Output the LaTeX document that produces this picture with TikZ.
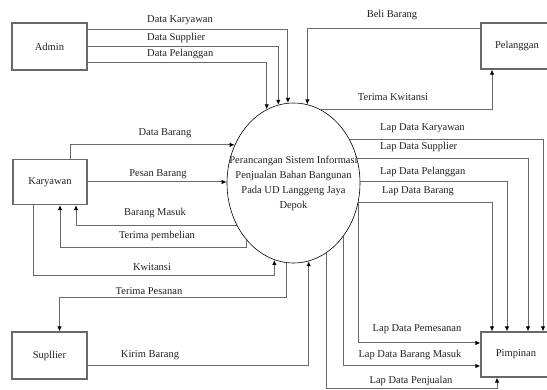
\documentclass[tikz,border=0pt]{standalone}
\usepackage{fontspec}
\setmainfont{Liberation Serif}
\usetikzlibrary{arrows.meta,positioning,shapes.geometric}
\definecolor{lngray}{RGB}{105,105,105}
\definecolor{txgray}{RGB}{35,35,35}
\tikzset{
  ent/.style={draw=lngray, line width=1.1pt, minimum width=75pt, minimum height=47pt,
              inner sep=0pt, font=\fontsize{10.5}{12}\selectfont, text=txgray},
  prc/.style={ellipse, draw=black, line width=0.6pt, minimum width=133pt,
              minimum height=160pt, inner sep=0pt},
  prctxt/.style={align=center, inner sep=0pt, font=\fontsize{10.5}{15}\selectfont, text=txgray},
  flw/.style={-{Latex[length=5pt,width=4.5pt,color=black]}, lngray, line width=1pt},
  lbl/.style={font=\fontsize{10.5}{12}\selectfont, text=txgray, inner sep=0pt},
}

\begin{document}
\begin{tikzpicture}[x=1pt, y=-1pt]
    \useasboundingbox[fill=white] (0,0) rectangle (547,390);
    \node[ent] (admin) at (49.5,46.5) {Admin};
    \node[ent, minimum width=74pt, minimum height=45pt] (karyawan) at (50,182) {Karyawan};
    \node[ent] (supplier) at (49.5,355.5) {Supllier};
    \node[ent, minimum width=90pt, minimum height=46pt] (pelanggan) at (526,46) {};
    \node[lbl] (tpelanggan) at (517,46) {Pelanggan};
    \node[ent, minimum width=90pt, minimum height=45pt] (pimpinan) at (526,354.5) {};
    \node[lbl] (tpimpinan) at (516,354.5) {Pimpinan};
    \node[prc] (sistem) at (293.5,183) {};
    \node[prctxt] (judul) at (sistem.center) {Perancangan Sistem Informasi\\Penjualan Bahan Bangunan\\Pada UD Langgeng Jaya\\Depok};

    \draw[flw] ([yshift=17pt]admin.east) -| (sistem.94);
    \draw[flw] (admin.east) -| (sistem.101);
    \draw[flw] ([yshift=-16pt]admin.east) -| (sistem.110);
    \draw[flw] ([yshift=17pt]pelanggan.west) -| (sistem.80);
    \draw[flw] (sistem.70) -| ([xshift=-34pt]pelanggan.south);
    \draw[flw] ([xshift=20pt]karyawan.north) |- (sistem.147);
    \draw[flw] (karyawan.east) -- (karyawan.east -| sistem.west);
    \draw[flw] (sistem.217) -| ([xshift=26pt]karyawan.south);
    \draw[flw] (sistem.230) -- ++(0,8) -| ([xshift=10pt]karyawan.south);
    \draw[flw] ([xshift=-17pt]karyawan.south) -- ++(0,70) -| (sistem.256);
    \draw[flw] (sistem.265) -- ++(0,35) -| ([xshift=10pt]supplier.north);
    \draw[flw] ([yshift=-10.5pt]supplier.east) -| (sistem.281);
    \draw[flw] (sistem.38) -| ([xshift=17pt]pimpinan.north);
    \draw[flw] (sistem.21) -| ([xshift=2pt]pimpinan.north);
    \draw[flw] (sistem.1) -| ([xshift=-19pt]pimpinan.north);
    \draw[flw] (sistem.343) -| ([xshift=-34pt]pimpinan.north);
    \draw[flw] (sistem.343) |- ([yshift=11.5pt]pimpinan.west);
    \draw[flw] (sistem.313) |- ([yshift=-11.5pt]pimpinan.west);
    \draw[flw] (sistem.295) |- ([xshift=-29pt,yshift=-11pt]pimpinan.south) -- ([xshift=-29pt]pimpinan.south);

    \node[lbl, anchor=west] (lDK) at (147,20) {Data Karyawan};
    \node[lbl, anchor=west] (lDS) at (147,38) {Data Supplier};
    \node[lbl, anchor=west] (lDP) at (147,54) {Data Pelanggan};
    \node[lbl] (lBB) at (392,15) {Beli Barang};
    \node[lbl] (lTK) at (393,97) {Terima Kwitansi};
    \node[lbl, anchor=west] (lLK) at (380,128) {Lap Data Karyawan};
    \node[lbl, anchor=west] (lLS) at (380,147) {Lap Data Supplier};
    \node[lbl, anchor=west] (lLP) at (380,172) {Lap Data Pelanggan};
    \node[lbl, anchor=west] (lLB) at (382,191) {Lap Data Barang};
    \node[lbl] (lDB) at (165,133) {Data Barang};
    \node[lbl] (lPB) at (158,174) {Pesan Barang};
    \node[lbl] (lBM) at (155,213) {Barang Masuk};
    \node[lbl] (lTP) at (157,236) {Terima pembelian};
    \node[lbl] (lKw) at (152,267) {Kwitansi};
    \node[lbl] (lTPs) at (149,291) {Terima Pesanan};
    \node[lbl] (lKB) at (150,355) {Kirim Barang};
    \node[lbl] (lLPm) at (417,329) {Lap Data Pemesanan};
    \node[lbl] (lLBM) at (410,355) {Lap Data Barang Masuk};
    \node[lbl] (lLPj) at (411,381) {Lap Data Penjualan};
\end{tikzpicture}
\end{document}
